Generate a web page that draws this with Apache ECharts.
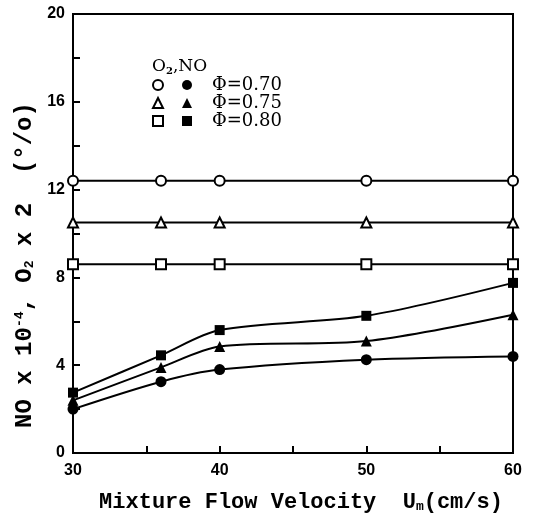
<!DOCTYPE html>
<html>
<head>
<meta charset="utf-8">
<script src="https://cdn.jsdelivr.net/npm/echarts@6/dist/echarts.min.js"></script>
<style>
  html, body { margin: 0; padding: 0; background: #fff; }
  #chart { width: 540px; height: 518px; }
</style>
</head>
<body>
<div id="chart"></div>
<script>
// velocity points (cm/s)
var velocity = [30, 36, 40, 50, 60];

// O2 x 2 (%)
var o2_070 = [12.4, 12.4, 12.4, 12.4, 12.4];
var o2_075 = [10.5, 10.5, 10.5, 10.5, 10.5];
var o2_080 = [8.6, 8.6, 8.6, 8.6, 8.6];

// NO x 10^-4
var no_070 = [2.0, 3.25, 3.8, 4.25, 4.4];
var no_075 = [2.4, 3.9, 4.85, 5.1, 6.3];
var no_080 = [2.75, 4.45, 5.6, 6.25, 7.75];

var phiLabels = ['\u03a6=0.70', '\u03a6=0.75', '\u03a6=0.80'];

function pairs(ys) {
    return velocity.map(function (x, i) { return [x, ys[i]]; });
}

var chart = echarts.init(document.getElementById('chart'));

function openSeries(name, ys, symbol) {
    return {
        name: name,
        type: 'line',
        data: pairs(ys),
        symbol: symbol,
        symbolSize: 10,
        lineStyle: { color: '#000', width: 2 },
        itemStyle: { color: '#fff', borderColor: '#000', borderWidth: 2 },
        z: 3
    };
}
function filledSeries(name, ys, symbol, size) {
    return {
        name: name,
        type: 'line',
        data: pairs(ys),
        smooth: 0.3,
        symbol: symbol,
        symbolSize: size,
        lineStyle: { color: '#000', width: 2 },
        itemStyle: { color: '#000', borderColor: '#000', borderWidth: 0 },
        z: 4
    };
}

var legendText = { fontFamily: 'DejaVu Serif', fontSize: 18, lineHeight: 18, color: '#000', padding: [0, 0, 0, 15] };

var option = {
    backgroundColor: '#fff',
    animation: false,
    grid: {
        left: 73, right: 27, top: 14, bottom: 65,
        show: true, borderColor: '#000', borderWidth: 2
    },
    legend: [
        {
            orient: 'vertical', left: 147, top: 71,
            itemWidth: 10, itemHeight: 10, itemGap: 0,
            formatter: function () { return ' '; },
            textStyle: legendText,
            itemStyle: { borderWidth: 2 },
            data: [
                { name: 'o70', icon: 'circle' },
                { name: 'o75', icon: 'triangle' },
                { name: 'o80', icon: 'rect' }
            ],
            selectedMode: false
        },
        {
            orient: 'vertical', left: 177, top: 71,
            itemWidth: 10, itemHeight: 10, itemGap: 0,
            formatter: function (n) {
                return { n70: phiLabels[0], n75: phiLabels[1], n80: phiLabels[2] }[n];
            },
            textStyle: legendText,
            data: [
                { name: 'n70', icon: 'circle' },
                { name: 'n75', icon: 'triangle' },
                { name: 'n80', icon: 'rect' }
            ],
            selectedMode: false
        }
    ],
    graphic: [
        {
            type: 'text', left: 152, top: 58,
            style: {
                text: '{a|O}{s|2}{a|,NO}',
                rich: {
                    a: { fontFamily: 'DejaVu Serif', fontSize: 17, fill: '#000' },
                    s: { fontFamily: 'DejaVu Serif', fontSize: 10, fontWeight: 'bold', fill: '#000', padding: [9, 0, 0, 0] }
                }
            }
        },
        {
            // y axis title
            type: 'text', x: 25, y: 265, rotation: Math.PI / 2,
            style: {
                text: '{a|NO x 10}{p|-4}{a|, O}{s|2}{a| x 2  (°/o)}',
                align: 'center', verticalAlign: 'middle',
                rich: {
                    a: { fontFamily: 'Liberation Mono', fontWeight: 'bold', fontSize: 24, fill: '#000' },
                    p: { fontFamily: 'Liberation Mono', fontWeight: 'bold', fontSize: 13, fill: '#000', padding: [0, 0, 11, 0] },
                    s: { fontFamily: 'Liberation Mono', fontWeight: 'bold', fontSize: 13, fill: '#000', padding: [9, 0, 0, 0] }
                }
            }
        },
        {
            // x axis title
            type: 'text', x: 301, y: 502,
            style: {
                text: '{a|Mixture Flow Velocity  U}{s|m}{a|(cm/s)}',
                align: 'center', verticalAlign: 'middle',
                rich: {
                    a: { fontFamily: 'Liberation Mono', fontWeight: 'bold', fontSize: 22, fill: '#000' },
                    s: { fontFamily: 'Liberation Mono', fontWeight: 'bold', fontSize: 13, fill: '#000', padding: [9, 0, 0, 0] }
                }
            }
        }
    ],
    xAxis: {
        type: 'value', min: 30, max: 60, interval: 10,
        axisLine: { show: true, lineStyle: { color: '#000', width: 2 } },
        axisTick: { inside: true, length: 7, lineStyle: { color: '#000', width: 2 } },
        minorTick: { show: true, splitNumber: 2, length: 7, lineStyle: { color: '#000', width: 2 } },
        splitLine: { show: false },
        axisLabel: { color: '#000', fontFamily: 'Liberation Sans', fontWeight: 'bold', fontSize: 16, margin: 10 }
    },
    yAxis: {
        type: 'value', min: 0, max: 20, interval: 4,
        axisLine: { show: true, lineStyle: { color: '#000', width: 2 } },
        axisTick: { inside: true, length: 7, lineStyle: { color: '#000', width: 2 } },
        minorTick: { show: true, splitNumber: 2, length: 7, lineStyle: { color: '#000', width: 2 } },
        splitLine: { show: false },
        axisLabel: { color: '#000', fontFamily: 'Liberation Sans', fontWeight: 'bold', fontSize: 16, margin: 8 }
    },
    series: [
        openSeries('o70', o2_070, 'circle'),
        openSeries('o75', o2_075, 'triangle'),
        openSeries('o80', o2_080, 'rect'),
        filledSeries('n70', no_070, 'circle', 11),
        filledSeries('n75', no_075, 'triangle', 11),
        filledSeries('n80', no_080, 'rect', 10)
    ]
};
chart.setOption(option);
</script>
</body>
</html>
